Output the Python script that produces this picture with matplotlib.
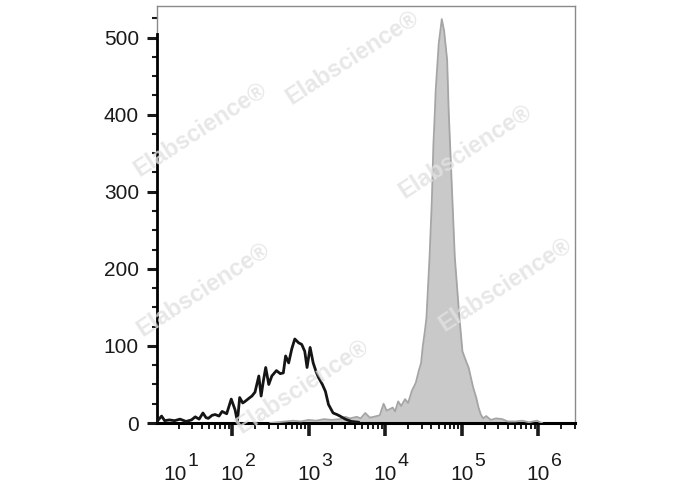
import matplotlib
matplotlib.use("Agg")
import matplotlib.pyplot as plt
import numpy as np
from matplotlib.ticker import MultipleLocator, LogLocator, NullFormatter
from matplotlib.transforms import offset_copy

plt.rcParams['font.family'] = ['Liberation Sans', 'DejaVu Sans']

# isotype control (black line): log10 of fluorescence, cell count
ctrl_log = [1.02, 1.08, 1.12, 1.18, 1.25, 1.32, 1.40, 1.47, 1.52, 1.57,
            1.62, 1.66, 1.69, 1.74, 1.78, 1.83, 1.87, 1.93, 1.99, 2.04,
            2.07, 2.10, 2.14, 2.17, 2.22, 2.26, 2.30, 2.35, 2.38, 2.41,
            2.44, 2.48, 2.52, 2.58, 2.63, 2.67, 2.70, 2.74, 2.78, 2.82,
            2.87, 2.91, 2.95, 2.98, 3.02, 3.06, 3.10, 3.13, 3.18, 3.22,
            3.26, 3.32, 3.37, 3.41, 3.48, 3.56, 3.65]
ctrl_count = [2, 9, 3, 4, 3, 5, 2, 4, 8, 5,
              13, 7, 6, 10, 11, 9, 15, 12, 31, 17,
              2, 33, 26, 28, 32, 35, 40, 61, 35, 55,
              72, 50, 61, 68, 64, 65, 87, 78, 96, 109,
              104, 102, 93, 72, 98, 78, 66, 59, 50, 41,
              24, 13, 11, 9, 5, 2, 1]

# stained sample (grey filled)
stain_log = [2.50, 2.70, 2.80, 2.90, 3.00, 3.10, 3.20, 3.30, 3.41, 3.48,
             3.54, 3.63, 3.68, 3.74, 3.80, 3.85, 3.93, 3.98, 4.02, 4.06,
             4.10, 4.13, 4.17, 4.21, 4.26, 4.30, 4.35, 4.40, 4.44, 4.47,
             4.49, 4.52, 4.54, 4.58, 4.61, 4.63, 4.65, 4.66, 4.70, 4.74,
             4.77, 4.81, 4.83, 4.87, 4.91, 4.97, 5.01, 5.05, 5.09, 5.15,
             5.19, 5.22, 5.25, 5.28, 5.32, 5.38, 5.45, 5.53, 5.60, 5.70,
             5.79, 5.88, 5.98, 6.05]
stain_count = [0, 2, 3, 2, 4, 3, 5, 4, 5, 8,
               6, 8, 6, 13, 7, 8, 10, 25, 16, 18,
               20, 15, 28, 22, 31, 26, 42, 52, 68, 78,
               98, 120, 137, 215, 288, 360, 405, 431, 492, 524,
               509, 471, 405, 310, 215, 137, 93, 82, 72, 46,
               33, 20, 11, 6, 9, 4, 6, 5, 2, 2,
               3, 1, 3, 0]

decades = [1, 2, 3, 4, 5, 6]
y_major = [0, 100, 200, 300, 400, 500]

fig = plt.figure(figsize=(6.88, 4.90), dpi=100)
ax = fig.add_axes([157 / 688, 1 - 423 / 490, (575 - 157) / 688, (423 - 6) / 490])

sx = 10 ** np.array(stain_log)
ax.fill_between(sx, 0, stain_count, color='#c9c9c9', lw=0, zorder=2)
ax.plot(sx, stain_count, color='#a5a5a5', lw=1.3, zorder=3)
ax.plot(10 ** np.array(ctrl_log), ctrl_count, color='#151515', lw=2.0, zorder=4)

ax.set_xscale('log')
ax.set_xlim(10 ** 1.02, 10 ** 6.48)
ax.set_ylim(0, 541)

# spines
for s in ['top', 'right']:
    ax.spines[s].set_color('#8a8a8a')
    ax.spines[s].set_linewidth(1.0)
ax.spines['left'].set_linewidth(2.0)
ax.spines['left'].set_bounds(0, 505)
ax.spines['bottom'].set_linewidth(2.2)
ax.axvline(10 ** 1.02, ymin=505 / 541, ymax=1, color='#8a8a8a', lw=1.0, clip_on=False)

# y ticks
ax.set_yticks(y_major)
ax.yaxis.set_minor_locator(MultipleLocator(25))
ax.tick_params(axis='y', which='major', direction='out', length=7, width=2.2,
               labelsize=15, pad=6, colors='#1a1a1a')
ax.tick_params(axis='y', which='minor', direction='out', length=3.5, width=1.5,
               colors='#1a1a1a')

# x ticks
ax.xaxis.set_major_locator(LogLocator(base=10, numticks=10))
ax.xaxis.set_minor_locator(LogLocator(base=10, subs=np.arange(2, 10), numticks=20))
ax.xaxis.set_minor_formatter(NullFormatter())
ax.tick_params(axis='x', which='major', direction='out', length=9, width=2.6,
               labelbottom=False, colors='#1a1a1a')
ax.tick_params(axis='x', which='minor', direction='out', length=4.5, width=1.4,
               colors='#1a1a1a')

# decade labels written as 10 with a raised exponent
for d in decades:
    shift = 14 if d == 1 else 0
    base_tr = offset_copy(ax.get_xaxis_transform(), fig=fig, x=shift, y=0, units='points')
    exp_tr = offset_copy(ax.get_xaxis_transform(), fig=fig, x=shift + 9, y=10.5, units='points')
    ax.text(10 ** d, -0.137, '10', transform=base_tr, ha='center', va='baseline',
            fontsize=15, color='#1a1a1a')
    ax.text(10 ** d, -0.137, str(d), transform=exp_tr, ha='left', va='baseline',
            fontsize=14, color='#1a1a1a')

# watermarks
marks = [(352, 58), (200, 130), (465, 152), (203, 290), (302, 387), (505, 285)]
for mx, my in marks:
    fig.text(mx / 688, 1 - my / 490, 'Elabscience®', rotation=33, ha='center', va='center',
             fontsize=17, fontweight='bold', color='#e2e2e2', alpha=0.8, zorder=10)

fig.savefig('out.png', dpi=100)
